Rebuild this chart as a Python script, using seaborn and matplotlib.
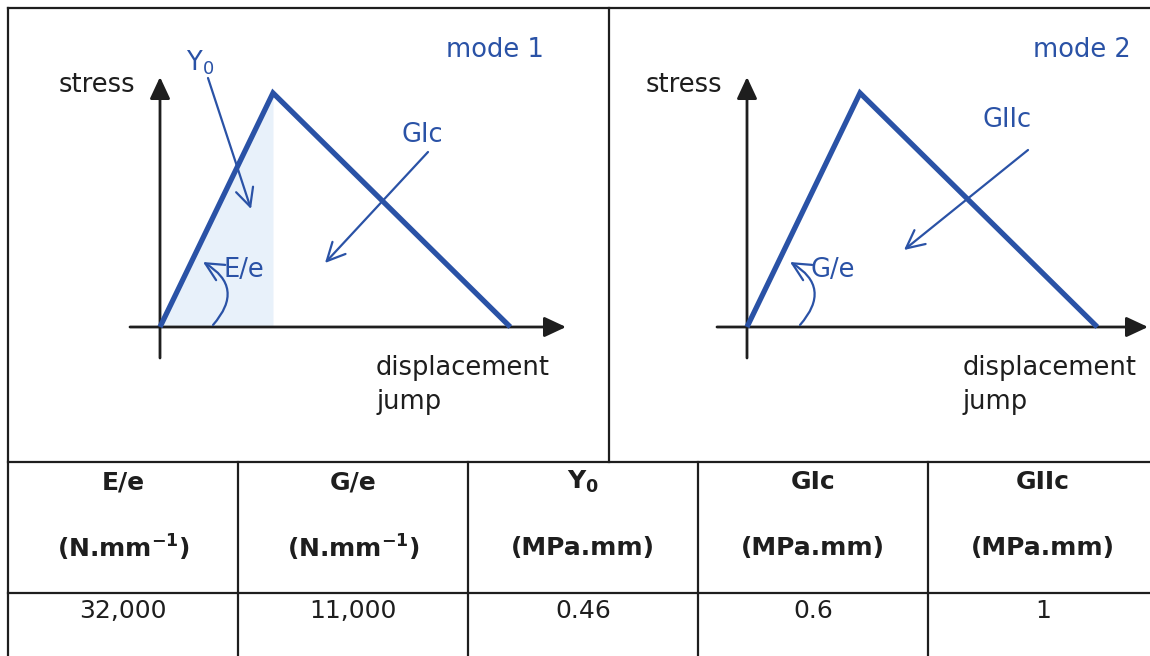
import matplotlib
matplotlib.use("Agg")
import matplotlib.pyplot as plt
import seaborn as sns

# Schematic bilinear cohesive law, in normalised units (peak at (1, 1))
displacement = [0.0, 1.0, 3.1]
stress = [0.0, 1.0, 0.0]

mode_titles = ["mode 1", "mode 2"]
slope_labels = ["E/e", "G/e"]
energy_labels = ["GIc", "GIIc"]

# Interface parameters
headers = ["E/e", "G/e", r"Y$_{\mathbf{0}}$", "GIc", "GIIc"]
units = [r"(N.mm$^{\mathbf{-1}}$)", r"(N.mm$^{\mathbf{-1}}$)",
         "(MPa.mm)", "(MPa.mm)", "(MPa.mm)"]
values = [32000, 11000, 0.46, 0.6, 1]

sns.set_theme(style="white")
plt.rcParams["font.family"] = ["DejaVu Sans"]
plt.rcParams["mathtext.fontset"] = "dejavusans"

BLUE = "#2A52A6"
SHADE = "#E8F1FA"
INK = "#1E1E1E"

W, H = 1150, 656
fig = plt.figure(figsize=(W / 100, H / 100), dpi=100)

# Frame and table grid, drawn in pixel units
bg = fig.add_axes([0, 0, 1, 1])
bg.set_xlim(0, W)
bg.set_ylim(H, 0)
bg.axis("off")
grid_kw = dict(color=INK, lw=1.6, solid_capstyle="projecting")
bg.plot([8, W], [8, 8], **grid_kw)
bg.plot([8, 8], [8, H], **grid_kw)
bg.plot([609, 609], [8, 462], **grid_kw)
bg.plot([8, W], [462, 462], **grid_kw)
bg.plot([8, W], [593, 593], **grid_kw)
col_w = 230
for i in range(1, 5):
    bg.plot([8 + col_w * i, 8 + col_w * i], [462, H], **grid_kw)

TABLE_FS = 18
for i, (hd, un, v) in enumerate(zip(headers, units, values)):
    cx = 8 + col_w * (i + 0.5)
    bg.text(cx, 482, hd, ha="center", va="center", fontsize=TABLE_FS,
            fontweight="bold", color=INK)
    bg.text(cx, 548, un, ha="center", va="center", fontsize=TABLE_FS,
            fontweight="bold", color=INK)
    bg.text(cx, 611, f"{v:,}", ha="center", va="center", fontsize=TABLE_FS,
            color=INK)

# Diagram scale: pixels per unit of displacement / stress
SX, SY = 113.0, 234.0
Y_AXIS = 327


def to_data(rx, py):
    return rx / SX, (Y_AXIS - py) / SY


panels = [(9, 608, 160), (610, W, 747)]
text_kw = dict(fontsize=18.5)
for k, (x0, x1, ox) in enumerate(panels):
    ax = fig.add_axes([x0 / W, (H - 462) / H, (x1 - x0) / W, (462 - 8) / H])
    ax.set_xlim((x0 - ox) / SX, (x1 - ox) / SX)
    ax.set_ylim((Y_AXIS - 462) / SY, (Y_AXIS - 8) / SY)
    ax.set_facecolor("none")
    ax.axis("off")

    # Coordinate axes with filled arrow heads
    axis_arrow = dict(arrowstyle="-|>,head_length=0.6,head_width=0.28",
                      color=INK, lw=2, shrinkA=0, shrinkB=0, mutation_scale=22)
    ax.annotate("", xy=to_data(0, 77), xytext=to_data(0, 358),
                arrowprops=axis_arrow, annotation_clip=False)
    ax.annotate("", xy=to_data(W - 2 - ox if k == 1 else 406, Y_AXIS),
                xytext=to_data(-30, Y_AXIS),
                arrowprops=axis_arrow, annotation_clip=False)

    if k == 0:
        ax.fill_between(displacement[:2], stress[:2], color=SHADE, lw=0,
                        zorder=1)

    sns.lineplot(x=displacement, y=stress, ax=ax, color=BLUE, lw=3.8,
                 solid_joinstyle="miter", solid_capstyle="butt", zorder=3)

    thin_arrow = dict(arrowstyle="->,head_length=0.65,head_width=0.32",
                      color=BLUE, lw=1.6, shrinkA=0, shrinkB=0,
                      mutation_scale=20)

    # Initial stiffness
    ax.annotate("", xy=to_data(43, 262), xytext=to_data(53, 325),
                arrowprops=dict(thin_arrow, connectionstyle="arc3,rad=0.6"))
    ax.text(*to_data(64, 270), slope_labels[k], ha="left", va="center",
            color=BLUE, **text_kw)

    # Fracture energy
    if k == 0:
        ax.text(*to_data(262, 135), energy_labels[k], ha="center",
                va="center", color=BLUE, **text_kw)
        ax.annotate("", xy=to_data(165, 263), xytext=to_data(268, 152),
                    arrowprops=thin_arrow)
        # Peak stress
        ax.text(*to_data(40, 63), r"Y$_\mathregular{0}$", ha="center",
                va="center", color=BLUE, **text_kw)
        ax.annotate("", xy=to_data(91, 209), xytext=to_data(48, 78),
                    arrowprops=thin_arrow)
    else:
        ax.text(*to_data(260, 120), energy_labels[k], ha="center",
                va="center", color=BLUE, **text_kw)
        ax.annotate("", xy=to_data(157, 250), xytext=to_data(281, 150),
                    arrowprops=thin_arrow)

    ax.text(*to_data(384, 50), mode_titles[k], ha="right", va="center",
            color=BLUE, **text_kw)
    ax.text(*to_data(-25, 85), "stress", ha="right", va="center",
            color=INK, **text_kw)
    ax.text(*to_data(216, 368), "displacement", ha="left", va="center",
            color=INK, **text_kw)
    ax.text(*to_data(216, 402), "jump", ha="left", va="center",
            color=INK, **text_kw)

fig.savefig("out.png", dpi=100)
